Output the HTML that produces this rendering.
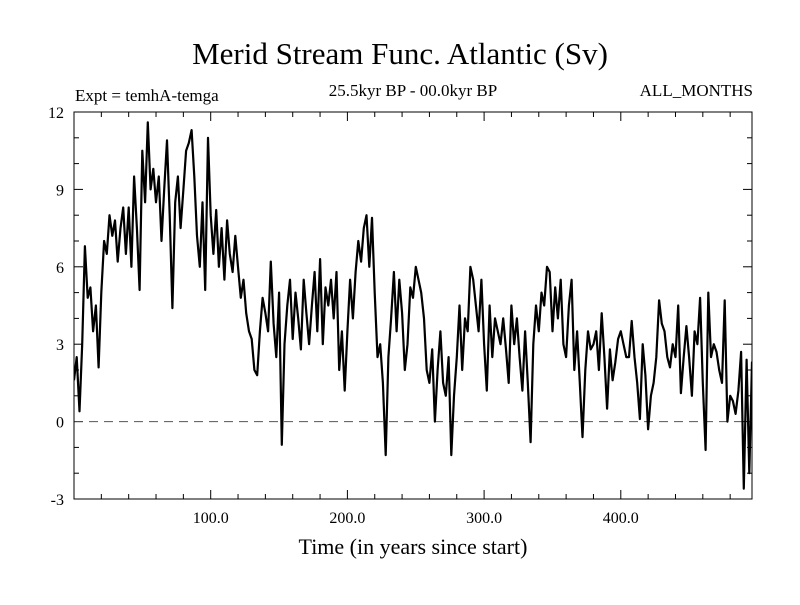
<!DOCTYPE html>
<html><head><meta charset="utf-8"><style>
body{margin:0;background:#fff;width:800px;height:600px;overflow:hidden}
svg text{font-family:"Liberation Serif",serif;fill:#000}
</style></head><body>
<svg id="chart" width="800" height="600">
<text x="400" y="64" text-anchor="middle" font-size="31">Merid Stream Func. Atlantic (Sv)</text>
<text x="75" y="101" font-size="17">Expt = temhA-temga</text>
<text x="413" y="96" text-anchor="middle" font-size="17">25.5kyr BP - 00.0kyr BP</text>
<text x="753" y="96" text-anchor="end" font-size="17">ALL_MONTHS</text>
<text x="413" y="554" text-anchor="middle" font-size="22">Time (in years since start)</text>
<g id="axes"></g>
<rect x="74" y="112" width="678" height="387" fill="none" stroke="#000" stroke-width="1"/>
</svg>
<script>
const yTicks=[12,9,6,3,0,-3];
const xTicks=[100,200,300,400];
const xTickLabels=["100.0","200.0","300.0","400.0"];
const values=[1.6,2.5,0.4,3.0,6.8,4.8,5.2,3.5,4.5,2.1,
5.0,7.0,6.5,8.0,7.2,7.8,6.2,7.5,8.3,6.5,
8.3,6.0,9.5,7.5,5.1,10.5,8.5,11.6,9.0,9.8,
8.5,9.5,7.0,9.0,10.9,8.0,4.4,8.5,9.5,7.5,
9.0,10.5,10.8,11.3,9.5,7.2,6.0,8.5,5.1,11.0,
8.0,6.5,8.2,6.0,7.5,5.5,7.8,6.5,5.8,7.2,
6.0,4.8,5.5,4.2,3.5,3.2,2.0,1.8,3.5,4.8,
4.2,3.5,6.2,3.8,2.5,5.0,-0.9,3.0,4.5,5.5,
3.2,5.0,4.0,2.8,5.5,4.2,3.0,4.5,5.8,3.5,
6.3,3.0,5.2,4.5,5.5,4.0,5.8,2.0,3.5,1.2,
3.5,5.5,4.0,5.8,7.0,6.2,7.5,8.0,6.0,7.9,
5.0,2.5,3.0,1.5,-1.3,2.5,4.0,5.8,3.5,5.5,
4.2,2.0,3.0,5.2,4.8,6.0,5.5,5.0,4.0,2.0,
1.5,2.8,0.0,2.0,3.5,1.5,1.0,2.5,-1.3,1.0,
2.5,4.5,2.0,4.0,3.5,6.0,5.5,4.5,3.5,5.5,
3.0,1.2,4.5,2.5,4.0,3.5,3.0,4.0,2.8,1.5,
4.5,3.0,4.0,2.5,1.2,3.5,1.5,-0.8,3.0,4.5,
3.5,5.0,4.5,6.0,5.8,3.5,5.2,4.0,5.5,3.0,
2.5,4.5,5.5,2.0,3.5,1.5,-0.6,2.0,3.5,2.8,
3.0,3.5,2.0,4.2,2.5,0.5,2.8,1.6,2.3,3.2,
3.5,3.0,2.5,2.5,3.9,2.5,1.5,0.1,3.0,1.8,
-0.3,1.0,1.5,2.5,4.7,3.8,3.5,2.5,2.1,3.0,
2.5,4.5,1.1,2.5,3.7,2.5,1.0,3.5,3.0,4.8,
1.5,-1.1,5.0,2.5,3.0,2.7,2.0,1.5,4.7,0.0,
1.0,0.8,0.3,1.2,2.7,-2.6,2.4,-2.0,2.3,0.9];
const yearStep=2;
const X0=74,XR=752,YT=112,YB=499;
const xs=t=>X0+t*1.367;
const ys=v=>YB-(v+3)*(YB-YT)/15;
const NS="http://www.w3.org/2000/svg";
const g=document.getElementById('axes');
function mk(tag,attrs){const e=document.createElementNS(NS,tag);for(const k in attrs)e.setAttribute(k,attrs[k]);g.appendChild(e);return e;}
for(let v=-3;v<=12;v++){
 const y=ys(v),len=(v%3===0)?9:5;
 const a=mk('line',{x1:X0,x2:X0+len,y1:y,y2:y,stroke:'#000'});
 
 
 const b=mk('line',{x1:XR,x2:XR-len,y1:y,y2:y,stroke:'#000'});
 
 
}
yTicks.forEach(v=>{
 const t=mk('text',{x:64,y:ys(v)+6,'text-anchor':'end','font-size':16});
 t.textContent=v;
 
 
});
for(let yr=20;yr<500;yr+=20){
 const x=xs(yr),len=(yr%100===0)?9:5;
 const a=mk('line',{x1:x,x2:x,y1:YB,y2:YB-len,stroke:'#000'});
 
 
 const b=mk('line',{x1:x,x2:x,y1:YT,y2:YT+len,stroke:'#000'});
 
 
}
xTicks.forEach((yr,i)=>{
 const t=mk('text',{x:xs(yr),y:523,'text-anchor':'middle','font-size':16});
 t.textContent=xTickLabels[i];
 
 
});
const z=mk('line',{x1:X0,x2:XR,y1:ys(0),y2:ys(0),stroke:'#555','stroke-dasharray':'9,6'});


const cp=mk('clipPath',{id:'clip'});
const cr=document.createElementNS(NS,'rect');
cr.setAttribute('x',X0);cr.setAttribute('y',YT);cr.setAttribute('width',XR-X0);cr.setAttribute('height',YB-YT);
cp.appendChild(cr);
const d=values.map((v,i)=>(i?'L':'M')+xs(i*yearStep).toFixed(1)+','+ys(v).toFixed(1)).join('');
const p=mk('path',{d:d,fill:'none',stroke:'#000','stroke-width':2.2,'stroke-linejoin':'round','clip-path':'url(#clip)'});


</script>
</body></html>
